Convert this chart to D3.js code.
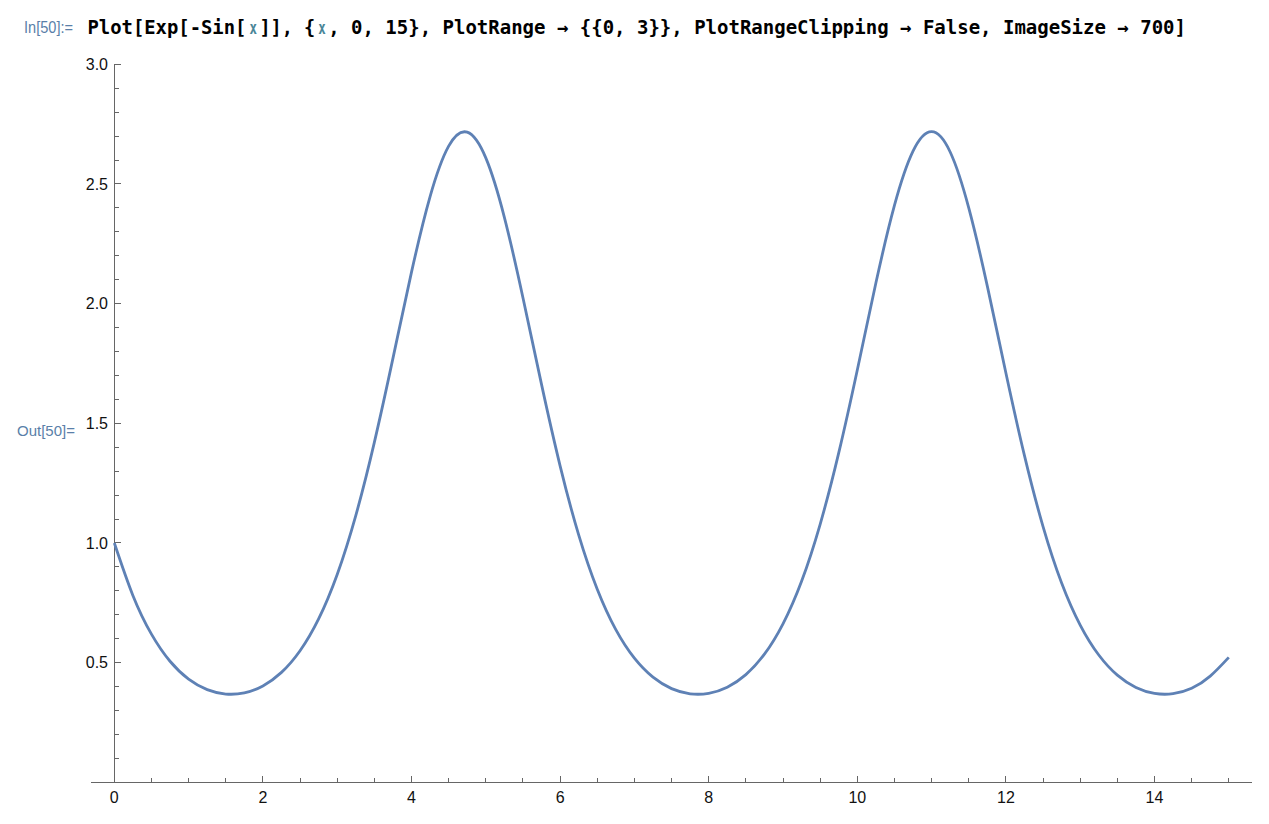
<!DOCTYPE html>
<html>
<head>
<meta charset="utf-8">
<script src="https://cdn.jsdelivr.net/npm/d3@7"></script>
<style>
  html, body { margin: 0; padding: 0; background: #fff; }
  svg { display: block; }
</style>
</head>
<body>
<svg id="chart" width="1269" height="824"></svg>
<script>
// Sample points (x step 0.25)
const xValues = [0,0.25,0.5,0.75,1,1.25,1.5,1.75,2,2.25,2.5,2.75,3,3.25,3.5,3.75,4,4.25,4.5,4.75,5,5.25,5.5,5.75,6,6.25,6.5,6.75,7,7.25,7.5,7.75,8,8.25,8.5,8.75,9,9.25,9.5,9.75,10,10.25,10.5,10.75,11,11.25,11.5,11.75,12,12.25,12.5,12.75,13,13.25,13.5,13.75,14,14.25,14.5,14.75,15];
const yValues = [1.000,0.7808,0.6192,0.5058,0.4311,0.3871,0.3688,0.3738,0.4028,0.4593,0.5497,0.6827,0.8684,1.1143,1.4202,1.7711,2.1315,2.4473,2.6579,2.7164,2.6089,2.3606,2.0248,1.6625,1.3224,1.0337,0.8065,0.6376,0.5184,0.4391,0.3914,0.3699,0.3718,0.3974,0.4500,0.5354,0.6623,0.8400,1.0781,1.3764,1.7229,2.0859,2.4102,2.6369,2.7183,2.6335,2.4000,2.0731,1.7101,1.3649,1.0686,0.8328,0.6569,0.5318,0.4476,0.3962,0.3714,0.3702,0.3926,0.4437,0.5219];
const xTickLabels = [0,2,4,6,8,10,12,14];
const yTickLabels = [0.5,1.0,1.5,2.0,2.5,3.0];
const xMinorStep = 0.5;
const yMinorStep = 0.1;
const inLabel = "In[50]:=";
const outLabel = "Out[50]=";
const codeParts = [
  {t: "Plot[Exp[-Sin[", c: "#000"},
  {t: "x", c: "#4A8698"},
  {t: "]], {", c: "#000"},
  {t: "x", c: "#4A8698"},
  {t: ", 0, 15}, PlotRange \u2192 {{0, 3}}, PlotRangeClipping \u2192 False, ImageSize \u2192 700]", c: "#000"}
];

const svg = d3.select("#chart");
const x = d3.scaleLinear().domain([0, 15]).range([114.3, 1228.8]);
const y = d3.scaleLinear().domain([0, 3]).range([782.3, 64.3]);
const axisColor = "#666";

// Header
svg.append("text").attr("x", 24).attr("y", 33)
  .attr("font-family", "Liberation Sans, Arial, sans-serif").attr("font-size", 16)
  .attr("fill", "#5A7FA9").attr("textLength", 49).attr("lengthAdjust", "spacingAndGlyphs")
  .text(inLabel);

const totalChars = codeParts.reduce((s, p) => s + p.t.length, 0);
const charW = 1100 / totalChars;
let off = 0;
codeParts.forEach(p => {
  const single = p.t.length === 1;
  svg.append("text").attr("x", 87 + off * charW + (single ? 2 : 0.5)).attr("y", 34)
    .attr("font-family", "DejaVu Sans Mono, monospace").attr("font-weight", "bold")
    .attr("font-size", single ? 17 : 19.5).attr("fill", p.c)
    .attr("textLength", p.t.length * charW - (single ? 4 : 1.5)).attr("lengthAdjust", "spacingAndGlyphs")
    .text(p.t);
  off += p.t.length;
});

svg.append("text").attr("x", 17).attr("y", 436)
  .attr("font-family", "Liberation Sans, Arial, sans-serif").attr("font-size", 15)
  .attr("fill", "#5A7FA9").text(outLabel);

// Axes
const g = svg.append("g").attr("stroke", axisColor).attr("stroke-width", 1).attr("shape-rendering", "crispEdges");
g.append("line").attr("x1", 91).attr("x2", 1252).attr("y1", y(0)).attr("y2", y(0));
g.append("line").attr("x1", x(0)).attr("x2", x(0)).attr("y1", y(0)).attr("y2", y(3));

const xMinor = d3.range(0, 15 + 1e-9, xMinorStep).filter(v => !xTickLabels.some(t => Math.abs(t - v) < 1e-9));
const yMinor = d3.range(yMinorStep, 3 + 1e-9, yMinorStep).filter(v => !yTickLabels.some(t => Math.abs(t - v) < 1e-9));

g.selectAll(".xmaj").data(xTickLabels).enter().append("line")
  .attr("x1", d => x(d)).attr("x2", d => x(d)).attr("y1", y(0)).attr("y2", y(0) - 6);
g.selectAll(".xmin").data(xMinor).enter().append("line")
  .attr("x1", d => x(d)).attr("x2", d => x(d)).attr("y1", y(0)).attr("y2", y(0) - 4);
g.selectAll(".ymaj").data(yTickLabels).enter().append("line")
  .attr("x1", x(0)).attr("x2", x(0) + 6.5).attr("y1", d => y(d)).attr("y2", d => y(d));
g.selectAll(".ymin").data(yMinor).enter().append("line")
  .attr("x1", x(0)).attr("x2", x(0) + 4.3).attr("y1", d => y(d)).attr("y2", d => y(d));

svg.selectAll(".xl").data(xTickLabels).enter().append("text")
  .attr("x", d => x(d)).attr("y", 802.5).attr("text-anchor", "middle")
  .attr("font-family", "Liberation Sans, Arial, sans-serif").attr("font-size", 16).attr("fill", "#111")
  .text(d => d);
svg.selectAll(".yl").data(yTickLabels).enter().append("text")
  .attr("x", 108).attr("y", d => y(d) + 5.8).attr("text-anchor", "end")
  .attr("font-family", "Liberation Sans, Arial, sans-serif").attr("font-size", 16).attr("fill", "#111")
  .text(d => d3.format(".1f")(d));

// Curve
const pts = xValues.map((v, i) => [v, yValues[i]]);
svg.append("path").datum(pts)
  .attr("d", d3.line().x(d => x(d[0])).y(d => y(d[1])).curve(d3.curveNatural))
  .attr("fill", "none").attr("stroke", "#5E81B5").attr("stroke-width", 2.8)
  .attr("stroke-linejoin", "round").attr("stroke-linecap", "butt");
</script>
</body>
</html>
